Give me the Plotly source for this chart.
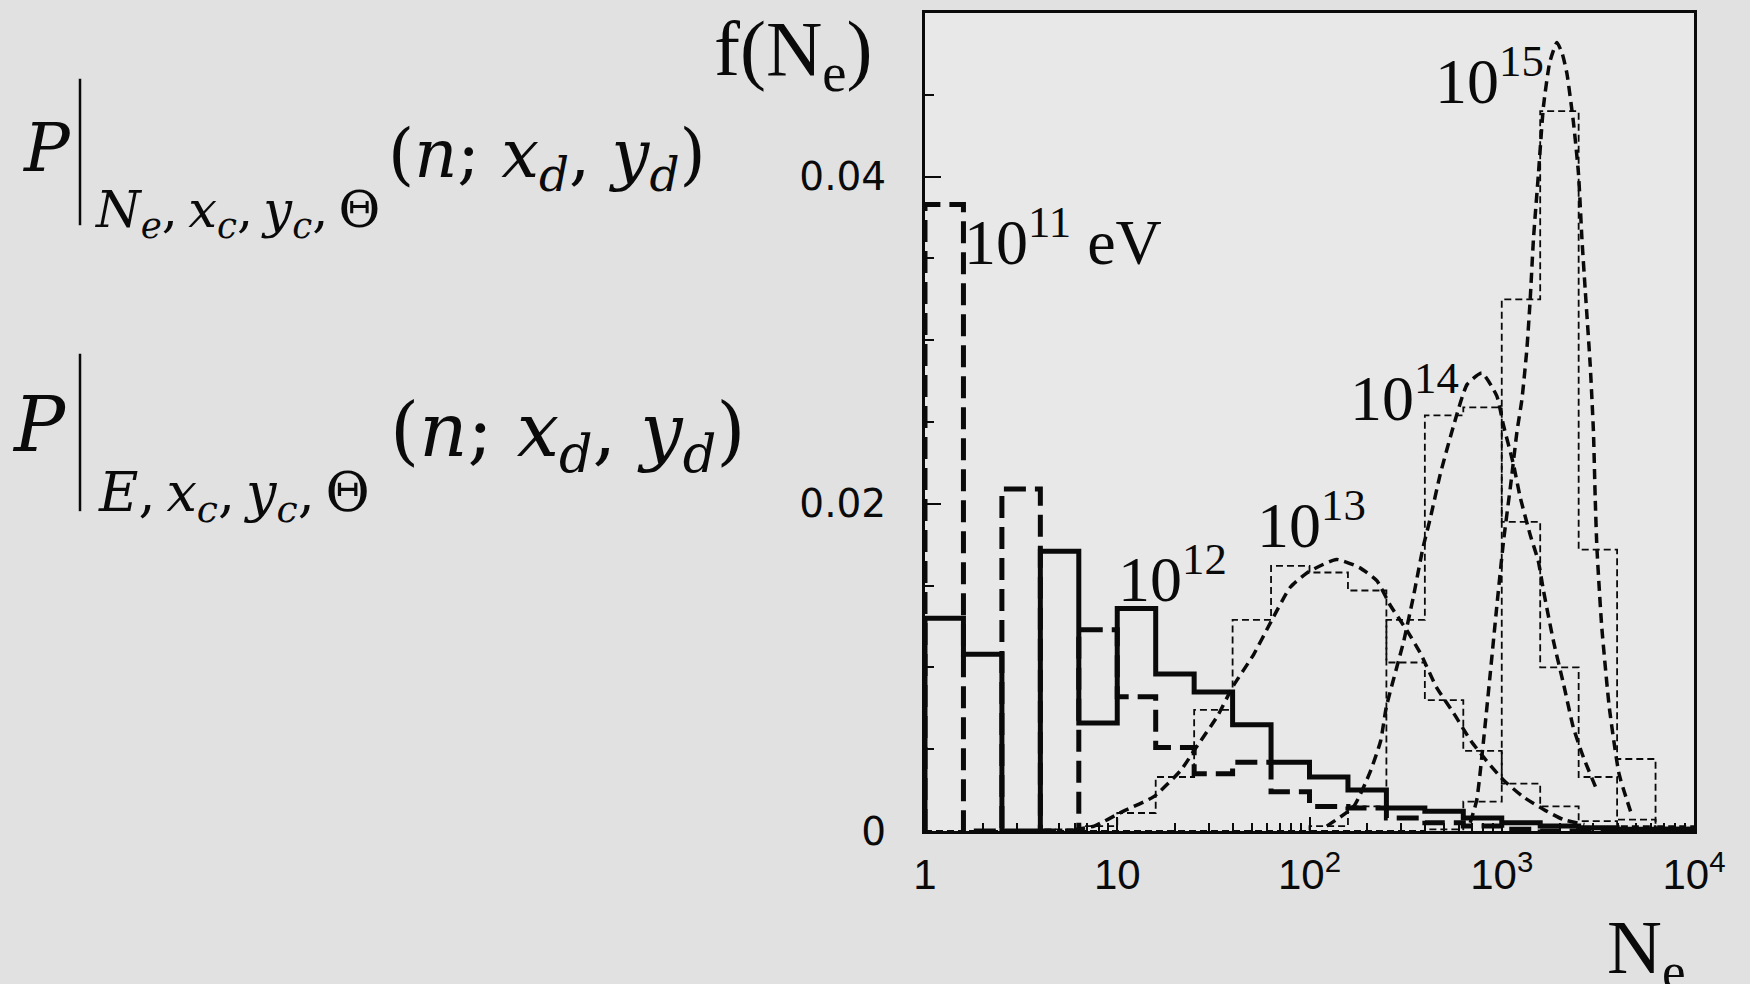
import plotly.graph_objects as go

# ---------------- data ----------------
# histogram bins: 20 bins, equal width 0.2 in log10(N_e), from 1 to 10^4
BIN_EDGES_LOG10 = [0.0, 0.2, 0.4, 0.6, 0.8, 1.0, 1.2, 1.4, 1.6, 1.8, 2.0,
                   2.2, 2.4, 2.6, 2.8, 3.0, 3.2, 3.4, 3.6, 3.8, 4.0]

H_1E11 = [0.0383, 0.0, 0.0209, 0.0, 0.0123, 0.0082, 0.0051, 0.0035, 0.0042, 0.0024,
          0.0015, 0.0014, 0.0008, 0.0005, 0.0003, 0.0001, 0.0, 0.0, 0.0, 0.0]
H_1E12 = [0.0130, 0.0108, 0.0, 0.0171, 0.0066, 0.0136, 0.0096, 0.0085, 0.0065, 0.0042,
          0.0033, 0.0025, 0.0014, 0.0012, 0.0008, 0.0005, 0.0003, 0.0002, 0.0001, 0.0001]
H_1E13 = [0.0, 0.0, 0.0, 0.0001, 0.0003, 0.0011, 0.0033, 0.0074, 0.0129, 0.0162,
          0.0158, 0.0147, 0.0103, 0.0080, 0.0049, 0.0029, 0.0015, 0.0006, 0.0003, 0.0001]
H_1E14 = [0.0, 0.0, 0.0, 0.0, 0.0, 0.0, 0.0, 0.0, 0.0, 0.0,
          0.0003, 0.0015, 0.0129, 0.0254, 0.0259, 0.0189, 0.0100, 0.0033, 0.0007, 0.0002]
H_1E15 = [0.0, 0.0, 0.0, 0.0, 0.0, 0.0, 0.0, 0.0, 0.0, 0.0,
          0.0, 0.0, 0.0, 0.0001, 0.0018, 0.0325, 0.0440, 0.0172, 0.0044, 0.0003]

# fitted curves: log10(N_e) positions and f values
FIT13_LOGX = [0.78, 0.88, 1.03, 1.19, 1.33, 1.41, 1.52, 1.60, 1.71, 1.80, 1.90, 1.99,
              2.14, 2.26, 2.35, 2.42, 2.51, 2.58, 2.66, 2.75, 2.84, 2.92, 3.01, 3.11,
              3.22, 3.32, 3.43]
FIT13_Y = [0.0001, 0.0003, 0.0012, 0.0021, 0.0037, 0.0051, 0.0070, 0.0088, 0.0108, 0.0128,
           0.0149, 0.0158, 0.0166, 0.0161, 0.0153, 0.0138, 0.0122, 0.0108, 0.0088, 0.0072,
           0.0055, 0.0043, 0.0031, 0.0021, 0.0013, 0.0007, 0.0004]

FIT14_LOGX = [2.09, 2.23, 2.315, 2.37, 2.40, 2.49, 2.54, 2.59, 2.63, 2.68, 2.75, 2.82,
              2.896, 2.974, 3.009, 3.061, 3.096, 3.148, 3.19, 3.217, 3.269, 3.321, 3.373,
              3.425, 3.495]
FIT14_Y = [0.0003, 0.0015, 0.0036, 0.0055, 0.0076, 0.0116, 0.0143, 0.0173, 0.0192, 0.0218,
           0.0248, 0.0273, 0.0280, 0.0266, 0.0248, 0.0224, 0.0204, 0.0181, 0.0165, 0.0147,
           0.0116, 0.0090, 0.0063, 0.0045, 0.0025]

FIT15_LOGX = [2.836, 2.87, 2.905, 2.94, 2.974, 3.009, 3.05, 3.079, 3.105, 3.131, 3.148,
              3.165, 3.191, 3.217, 3.25, 3.287, 3.315, 3.339, 3.373, 3.399, 3.417, 3.434,
              3.46, 3.477, 3.486, 3.495, 3.52, 3.56, 3.61, 3.67]
FIT15_Y = [0.0005, 0.0019, 0.0055, 0.0096, 0.0137, 0.0177, 0.0215, 0.0244, 0.0264, 0.0295,
           0.0325, 0.0362, 0.0402, 0.0443, 0.0470, 0.0482, 0.0475, 0.0463, 0.0433, 0.0402,
           0.0362, 0.0331, 0.0285, 0.0244, 0.0204, 0.0173, 0.0125, 0.0075, 0.0035, 0.0012]

X_TICK_VALS = [1, 10, 100, 1000, 10000]
X_TICK_TEXT = ["1", "10", "10<sup>2</sup>", "10<sup>3</sup>", "10<sup>4</sup>"]
Y_TICK_VALS = [0, 0.02, 0.04]
Y_TICK_TEXT = ["0", "0.02", "0.04"]
Y_MINOR_VALS = [0.005, 0.01, 0.015, 0.025, 0.03, 0.035, 0.045]

ENERGY_LABELS = ["10<sup>11</sup> eV", "10<sup>12</sup>", "10<sup>13</sup>",
                 "10<sup>14</sup>", "10<sup>15</sup>"]

# ---------------- layout geometry (pixels) ----------------
W, H = 1750, 984
L, R, T, B = 925, 1694, 10, 831


def px(x):
    return (x - L) / (R - L)


def py(y):
    return (B - y) / (B - T)


def step(vals):
    xs = [10 ** BIN_EDGES_LOG10[0]] + [10 ** e for e in BIN_EDGES_LOG10[:-1]] + [10 ** BIN_EDGES_LOG10[-1]]
    ys = [0.0] + list(vals) + [0.0]
    return xs, ys


INK = "#0a0a0a"
fig = go.Figure()

thin = dict(color=INK, width=1.8, dash="7px,4px", shape="hv")
for vals in (H_1E13, H_1E14, H_1E15):
    xs, ys = step(vals)
    fig.add_trace(go.Scatter(x=xs, y=ys, mode="lines", line=thin, hoverinfo="skip"))

xs, ys = step(H_1E11)
fig.add_trace(go.Scatter(x=xs, y=ys, mode="lines",
                         line=dict(color=INK, width=5, dash="22px,9px", shape="hv"), hoverinfo="skip"))
xs, ys = step(H_1E12)
fig.add_trace(go.Scatter(x=xs, y=ys, mode="lines",
                         line=dict(color=INK, width=5, shape="hv"), hoverinfo="skip"))

for lx, ly in ((FIT13_LOGX, FIT13_Y), (FIT14_LOGX, FIT14_Y), (FIT15_LOGX, FIT15_Y)):
    fig.add_trace(go.Scatter(x=[10 ** v for v in lx], y=ly, mode="lines",
                             line=dict(color=INK, width=3.5, dash="10px,6px", shape="spline", smoothing=0.5),
                             hoverinfo="skip"))

minor_x = [m * 10 ** d for d in range(4) for m in range(2, 10)]

fig.update_layout(
    width=W, height=H, autosize=False,
    margin=dict(l=L, r=W - R, t=T, b=H - B, pad=0),
    paper_bgcolor="#e1e1e1", plot_bgcolor="#e8e8e8",
    showlegend=False,
    xaxis=dict(type="log", range=[0, 4], showgrid=False, zeroline=False,
               showline=True, linecolor=INK, linewidth=3, mirror=True,
               ticks="inside", ticklen=14, tickwidth=2, tickcolor=INK,
               tickvals=X_TICK_VALS, ticktext=X_TICK_TEXT, ticklabelstandoff=5,
               tickfont=dict(family="Liberation Sans", size=42, color=INK),
               minor=dict(tickvals=minor_x, ticks="inside", ticklen=8, tickwidth=2,
                          tickcolor=INK, showgrid=False)),
    yaxis=dict(range=[0, 0.05], showgrid=False, zeroline=False,
               showline=True, linecolor=INK, linewidth=3, mirror=True,
               ticks="inside", ticklen=16, tickwidth=2, tickcolor=INK,
               tickvals=Y_TICK_VALS, ticktext=Y_TICK_TEXT, ticklabelstandoff=28,
               tickfont=dict(family="DejaVu Sans", size=39, color=INK),
               minor=dict(tickvals=Y_MINOR_VALS, ticks="inside", ticklen=9, tickwidth=2,
                          tickcolor=INK, showgrid=False)),
)

ann = []


def add_text(text, x, y, size, family, yanchor, xanchor="left"):
    ann.append(dict(text=text, x=px(x), y=py(y), xref="paper", yref="paper",
                    xanchor=xanchor, yanchor=yanchor, showarrow=False,
                    font=dict(family=family, size=size, color=INK)))


# energy labels (baseline + descent -> bottom)
lab_pos = [(962, 264), (1116, 602), (1255, 548), (1348, 421), (1433, 103)]
for t, (x, base) in zip(ENERGY_LABELS, lab_pos):
    add_text(t, x, base + 0.216 * 64, 64, "Liberation Serif", "bottom")

# axis titles
add_text("f(N<sub>e</sub>)", 712, 69 - 0.891 * 78, 78, "Liberation Serif", "top")
add_text("N<sub>e</sub>", 1605, 971 - 0.891 * 76, 76, "Liberation Serif", "top")

# formulas on the left
SERIF = "DejaVu Serif"
TS = "\u2009"
sub1 = ("<i>N</i><sub><i>e</i></sub>," + TS + "<i>x</i><sub><i>c</i></sub>," + TS +
        "<i>y</i><sub><i>c</i></sub>," + TS + "Θ")
sub2 = "<i>E</i>," + TS + "<i>x</i><sub><i>c</i></sub>," + TS + "<i>y</i><sub><i>c</i></sub>," + TS + "Θ"
args = "(<i>n</i>; <i>x</i><sub><i>d</i></sub>, <i>y</i><sub><i>d</i></sub>)"

add_text("<i>P</i>", 20, 171 + 0.236 * 68, 68, SERIF, "bottom")
add_text(sub1, 92, 223 - 0.928 * 51, 51, SERIF, "top")
add_text(args, 386, 173 - 0.928 * 67, 67, SERIF, "top")

add_text("<i>P</i>", 10, 452 + 0.236 * 76, 76, SERIF, "bottom")
add_text(sub2, 96, 508 - 0.928 * 54, 54, SERIF, "top")
add_text(args, 388, 452 - 0.928 * 75, 75, SERIF, "top")

fig.update_layout(annotations=ann)

shapes = [
    dict(type="line", xref="paper", yref="paper", x0=px(80), x1=px(80), y0=py(76), y1=py(223),
         line=dict(color=INK, width=2.5)),
    dict(type="line", xref="paper", yref="paper", x0=px(80), x1=px(80), y0=py(352), y1=py(510),
         line=dict(color=INK, width=2.5)),
]
fig.update_layout(shapes=shapes)

fig.write_html("out.html", config={"displayModeBar": False},
               post_script="document.body.style.margin='0';document.body.style.overflow='hidden';")
